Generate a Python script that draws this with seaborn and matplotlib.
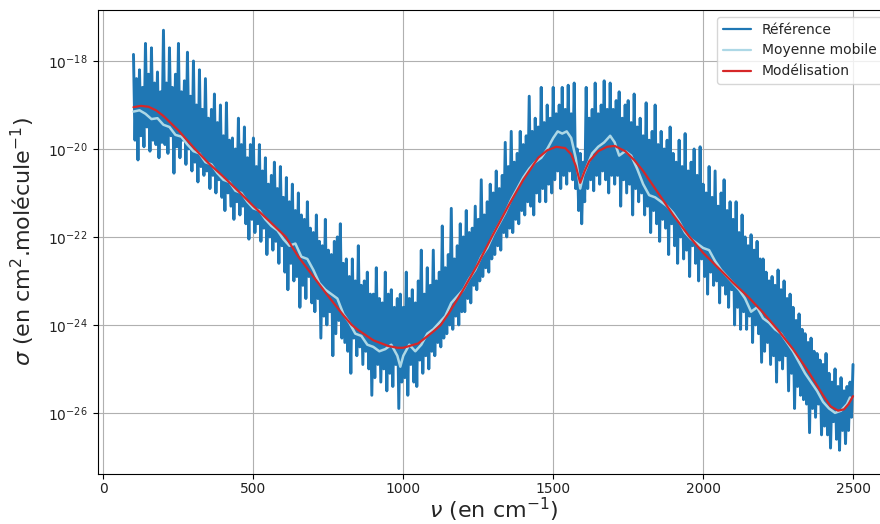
import numpy as np
import pandas as pd
import matplotlib
matplotlib.use("Agg")
import matplotlib.pyplot as plt
import seaborn as sns
from matplotlib.ticker import LogFormatterSciNotation, NullLocator

# Wavenumber grid of the measured spectrum (cm^-1)
nu_ref = list(range(100, 2501, 5))

# log10 of the measured cross-section, one row per 100 cm^-1
log_sigma_ref = [
    -17.85, -19.8, -18.4, -20.25, -18.2, -19.7, -18.6, -19.95, -17.6, -19.5,
    -18.3, -20.05, -17.7, -19.8, -18.5, -19.9, -18.25, -20.2, -18.7, -19.85,
    -17.3, -19.9, -18.5, -20.1, -17.7, -19.7, -18.6, -20.55, -18.3, -19.95,
    -17.6, -20.2, -18.7, -19.8, -18.45, -20.35, -17.8, -20.0, -18.8, -20.5,
    -18.0, -20.3, -19.0, -20.75, -18.2, -20.4, -19.1, -20.6, -18.4, -20.5,
    -19.3, -20.9, -19.1, -20.6, -18.75, -21.0, -19.4, -20.7, -19.0, -21.1,
    -19.7, -21.4, -18.95, -21.0, -19.8, -21.3, -19.75, -21.6, -20.0, -21.2,
    -19.3, -21.5, -19.9, -21.3, -19.5, -21.7, -20.2, -22.05, -19.9, -21.6,
    -19.75, -21.9, -20.4, -21.7, -19.9, -22.1, -20.5, -21.8, -20.2, -22.4,
    -20.8, -22.0, -20.6, -22.3, -20.3, -22.1, -20.9, -22.6, -20.4, -22.2,
    -21.1, -22.8, -20.65, -23.2, -21.2, -22.6, -20.8, -23.0, -21.4, -22.9,
    -21.0, -23.6, -21.5, -23.1, -21.6, -23.4, -21.2, -22.9, -21.8, -23.5,
    -21.9, -23.7, -21.5, -23.4, -22.1, -24.3, -22.2, -23.8, -21.6, -24.0,
    -22.3, -23.7, -22.4, -24.7, -22.1, -24.2, -22.0, -23.9, -21.7, -24.3,
    -22.6, -24.4, -22.5, -24.6, -22.9, -25.1, -22.5, -24.3, -23.0, -24.7,
    -22.2, -24.5, -23.1, -24.9, -23.0, -24.6, -22.8, -25.0, -23.3, -25.6,
    -23.3, -25.2, -22.7, -24.9, -23.4, -25.3, -23.5, -25.0, -22.8, -25.5,
    -23.3, -25.1, -23.2, -25.4, -23.6, -24.9, -23.4, -25.9, -23.3, -25.3,
    -23.6, -25.2, -22.8, -25.6, -23.4, -24.9, -23.2, -25.3, -23.5, -25.4,
    -23.0, -24.8, -22.3, -25.1, -23.3, -24.7, -22.7, -25.0, -23.1, -24.6,
    -22.3, -24.7, -23.0, -24.4, -22.8, -24.5, -21.75, -24.3, -22.7, -24.2,
    -22.4, -24.0, -21.35, -24.1, -22.5, -23.8, -22.2, -24.0, -21.7, -23.7,
    -22.0, -23.7, -21.4, -23.4, -21.9, -23.5, -21.8, -23.1, -21.3, -23.2,
    -21.6, -23.0, -20.7, -22.9, -21.5, -22.7, -21.2, -22.8, -20.8, -22.5,
    -21.0, -22.4, -20.5, -22.2, -20.9, -22.3, -20.6, -21.9, -19.85, -22.0,
    -20.4, -21.8, -19.6, -21.9, -20.3, -21.6, -20.1, -21.7, -19.6, -21.4,
    -19.9, -21.5, -19.7, -21.2, -18.8, -21.3, -19.6, -21.5, -19.3, -21.0,
    -19.5, -21.2, -18.6, -20.9, -19.4, -21.2, -19.0, -20.8, -19.3, -21.0,
    -18.6, -20.7, -19.2, -20.5, -19.0, -20.9, -18.6, -20.6, -19.1, -20.8,
    -18.55, -20.5, -19.2, -20.7, -18.5, -20.9, -20.0, -21.4, -20.1, -21.7,
    -20.3, -21.2, -18.6, -20.9, -19.3, -20.7, -19.1, -20.95, -18.5, -20.6,
    -19.2, -20.8, -19.0, -20.5, -18.45, -20.7, -19.1, -21.0, -18.5, -20.6,
    -19.1, -20.8, -18.9, -20.6, -18.7, -21.3, -19.3, -20.7, -19.0, -21.0,
    -18.9, -20.8, -19.4, -21.5, -18.75, -20.9, -19.5, -21.2, -19.3, -21.0,
    -19.7, -21.5, -18.95, -21.3, -19.8, -21.9, -19.6, -21.4, -19.0, -21.7,
    -19.9, -22.1, -19.6, -21.6, -20.0, -21.8, -19.8, -22.4, -19.5, -21.7,
    -20.1, -22.2, -20.3, -22.6, -19.8, -22.0, -20.4, -22.5, -19.65, -22.3,
    -20.5, -22.9, -20.3, -22.2, -20.0, -22.6, -20.6, -23.0, -19.95, -22.5,
    -20.8, -22.9, -21.0, -23.3, -20.4, -22.8, -21.1, -23.1, -20.5, -23.0,
    -21.3, -23.5, -21.0, -23.1, -20.7, -23.3, -21.4, -23.6, -21.2, -23.2,
    -21.6, -24.0, -21.2, -23.6, -21.9, -24.1, -21.5, -23.7, -22.0, -24.1,
    -22.2, -23.8, -21.95, -24.4, -22.3, -24.0, -22.1, -24.2, -22.5, -24.85,
    -22.5, -24.6, -22.8, -24.4, -23.0, -24.9, -22.9, -24.7, -23.1, -25.3,
    -22.75, -24.8, -23.2, -25.0, -23.0, -24.7, -23.4, -25.5, -23.3, -25.1,
    -23.6, -25.9, -23.9, -25.4, -23.75, -25.6, -24.1, -25.7, -24.2, -25.8,
    -24.4, -26.45, -24.3, -25.9, -24.6, -26.1, -24.65, -25.8, -24.8, -26.5,
    -24.9, -26.3, -24.65, -26.5, -25.1, -26.8, -25.3, -26.2, -25.0, -26.6,
    -25.4, -26.85, -25.2, -26.4, -25.5, -26.7, -25.4, -26.4, -25.3, -26.1,
    -24.9,
]

# Moving average of the spectrum
nu_avg = [
    100, 120, 140, 160, 180, 200, 220, 240, 260, 280,
    300, 320, 340, 360, 380, 400, 420, 440, 460, 480,
    500, 520, 540, 560, 580, 600, 620, 640, 660, 680,
    700, 720, 740, 760, 780, 800, 820, 840, 860, 880,
    900, 920, 940, 960, 980, 990, 1000, 1020, 1040, 1060,
    1080, 1100, 1120, 1140, 1160, 1180, 1200, 1220, 1240, 1260,
    1280, 1300, 1320, 1340, 1360, 1380, 1400, 1420, 1440, 1460,
    1480, 1500, 1515, 1530, 1545, 1560, 1575, 1590, 1600, 1615,
    1630, 1650, 1670, 1690, 1705, 1720, 1740, 1760, 1780, 1800,
    1820, 1840, 1860, 1880, 1900, 1920, 1940, 1960, 1980, 2000,
    2020, 2040, 2060, 2080, 2100, 2120, 2140, 2160, 2180, 2200,
    2220, 2240, 2260, 2280, 2300, 2320, 2340, 2360, 2380, 2400,
    2420, 2440, 2460, 2480, 2490,
]
log_sigma_avg = [
    -19.15, -19.12, -19.2, -19.32, -19.3, -19.45, -19.5, -19.68, -19.72, -19.9,
    -20.05, -20.1, -20.3, -20.35, -20.55, -20.7, -20.75, -20.95, -21.0, -21.2,
    -21.35, -21.4, -21.6, -21.75, -21.85, -22.05, -22.2, -22.15, -22.45, -22.5,
    -22.75, -23.05, -23.2, -23.3, -23.4, -23.75, -23.95, -24.2, -24.25, -24.45,
    -24.5, -24.6, -24.55, -24.45, -24.7, -24.95, -24.7, -24.45, -24.6, -24.45,
    -24.2, -24.1, -23.95, -23.8, -23.5, -23.35, -23.2, -22.95, -22.75, -22.45,
    -22.25, -21.95, -21.7, -21.45, -21.15, -20.9, -20.65, -20.45, -20.3, -20.2,
    -20.0, -19.75, -19.6, -19.65, -19.6, -19.75, -20.2, -20.9, -20.6, -20.35,
    -20.1, -19.95, -19.85, -19.7, -19.85, -20.15, -20.05, -20.15, -20.45, -20.8,
    -21.05, -21.1, -21.2, -21.3, -21.45, -21.65, -21.9, -22.05, -22.15, -22.25,
    -22.3, -22.55, -22.75, -22.9, -23.05, -23.2, -23.4, -23.7, -23.6, -23.85,
    -23.95, -24.1, -24.2, -24.4, -24.6, -24.85, -25.1, -25.3, -25.5, -25.75,
    -25.9, -26.0, -25.95, -25.8, -25.65,
]

# Fitted model
nu_model = [
    100, 125, 150, 175, 200, 250, 305, 350, 400, 450,
    500, 550, 608, 650, 700, 750, 800, 828, 850, 900,
    950, 980, 1000, 1050, 1100, 1125, 1150, 1200, 1250, 1295,
    1350, 1400, 1450, 1480, 1510, 1540, 1560, 1575, 1590, 1605,
    1620, 1650, 1680, 1705, 1740, 1770, 1800, 1850, 1900, 1955,
    2000, 2050, 2100, 2150, 2200, 2250, 2300, 2350, 2400, 2425,
    2450, 2470, 2485, 2500,
]
log_sigma_model = [
    -19.05, -19.02, -19.04, -19.12, -19.25, -19.58, -20.0, -20.32, -20.63, -20.96,
    -21.3, -21.62, -22.0, -22.45, -22.9, -23.35, -23.78, -24.0, -24.12, -24.35,
    -24.48, -24.52, -24.52, -24.42, -24.15, -24.0, -23.75, -23.2, -22.6, -22.0,
    -21.3, -20.7, -20.2, -20.03, -19.95, -19.98, -20.12, -20.38, -20.77, -20.5,
    -20.28, -20.05, -19.95, -19.93, -20.05, -20.25, -20.5, -21.0, -21.5, -22.0,
    -22.36, -22.7, -23.04, -23.36, -23.72, -24.12, -24.55, -25.05, -25.6, -25.85,
    -25.95, -25.92, -25.8, -25.62,
]

# Axis ticks
x_ticks = [0, 500, 1000, 1500, 2000, 2500]
y_tick_exponents = [-26, -24, -22, -20, -18]

ref = pd.DataFrame({"nu": nu_ref, "sigma": np.power(10.0, log_sigma_ref)})
avg = pd.DataFrame({"nu": nu_avg, "sigma": np.power(10.0, log_sigma_avg)})
model = pd.DataFrame({"nu": nu_model, "sigma": np.power(10.0, log_sigma_model)})

sns.set_style("white")
plt.rcParams["font.family"] = ["DejaVu Sans"]

fig = plt.figure(figsize=(8.8, 5.24), dpi=100)
ax = fig.add_axes([97.5 / 880, 50 / 524, 791.5 / 880, 464 / 524])

sns.lineplot(data=ref, x="nu", y="sigma", ax=ax, color="#1f77b4", lw=2.1,
             label="Référence", estimator=None, sort=False)
sns.lineplot(data=avg, x="nu", y="sigma", ax=ax, color="#add8e6", lw=1.8,
             label="Moyenne mobile", estimator=None, sort=False)
sns.lineplot(data=model, x="nu", y="sigma", ax=ax, color="#d62728", lw=1.6,
             label="Modélisation", estimator=None, sort=False)

ax.set_yscale("log")
ax.set_xlim(-20, 2620)
ax.set_ylim(10 ** -27.39, 10 ** -16.84)
ax.set_xticks(x_ticks)
ax.set_yticks([10.0 ** e for e in y_tick_exponents])
ax.yaxis.set_major_formatter(LogFormatterSciNotation(base=10.0))
ax.yaxis.set_minor_locator(NullLocator())

for side in ["top", "right", "bottom", "left"]:
    ax.spines[side].set_visible(True)
    ax.spines[side].set_color("black")
    ax.spines[side].set_linewidth(0.8)
ax.tick_params(axis="both", which="major", direction="out", length=3.5,
               width=0.8, color="black", labelsize=10, labelcolor="#222222",
               bottom=True, left=True)
ax.tick_params(axis="x", pad=2.5)
ax.grid(True, color="#b0b0b0", linewidth=0.8)
ax.set_axisbelow(True)

ax.set_xlabel(r"$\nu$ (en cm$^{-1}$)", fontsize=16, labelpad=-0.5)
ax.set_ylabel(r"$\sigma$ (en cm$^{2}$.molécule$^{-1}$)", fontsize=16, labelpad=8)

leg = ax.legend(loc="upper right", fontsize=10, frameon=True, framealpha=0.8,
                edgecolor="#cccccc", fancybox=True)
for line in leg.get_lines():
    line.set_linewidth(1.6)

fig.savefig("out.png", dpi=100)
